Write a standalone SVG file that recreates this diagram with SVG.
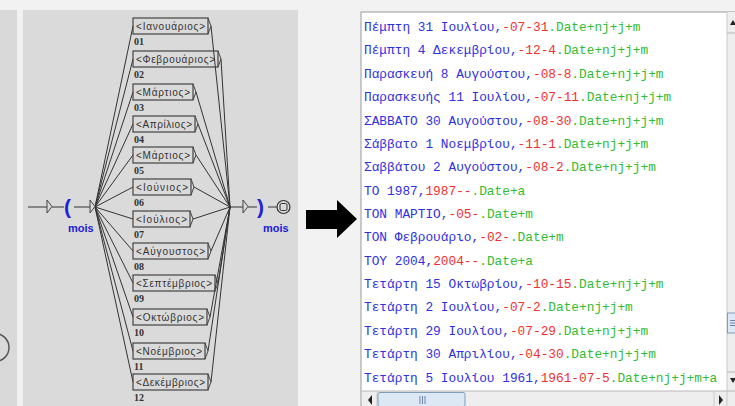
<svg xmlns="http://www.w3.org/2000/svg" width="735" height="406" viewBox="0 0 735 406">
<style>
.bg{fill:#f2f2f2}
.panel{fill:#dadada}
.edge{stroke:#333;stroke-width:1;fill:none}
.box rect{fill:none;stroke:#444;stroke-width:1.2}
.box polyline{fill:none;stroke:#444;stroke-width:1}
.bl{font-family:"Liberation Sans","DejaVu Sans",sans-serif;font-size:10px;fill:#333}
.num{font-family:"Liberation Serif","DejaVu Serif",serif;font-size:10px;font-weight:bold;fill:#333}
.blue{fill:#2020d8}
.paren{font-family:"Liberation Sans",sans-serif;font-size:21px;font-weight:bold;fill:#2020d8}
.mois{font-family:"Liberation Sans",sans-serif;font-size:11px;font-weight:bold;fill:#2020d8}
.ln{font-family:"Liberation Mono","DejaVu Sans Mono",monospace;font-size:12.8px}
.b{fill:#3030e0}.r{fill:#f03030}.g{fill:#33bb33}
</style>
<rect class="bg" x="0" y="0" width="735" height="406"/>
<rect x="0" y="10" width="17" height="396" fill="#d9d9d9"/>
<rect class="panel" x="23" y="10" width="275" height="396"/>
<circle cx="-5" cy="347.5" r="14" fill="none" stroke="#555" stroke-width="1.5"/>

<g id="connectors">
<path class="edge" d="M28 207H47M52 207H64M74 207H90M230 207H243M248 207H257M268 207H277"/>
<path class="edge" d="M95 207L133 26M95 207L133 59M95 207L133 92M95 207L133 124M95 207L133 155M95 207L133 187M95 207L133 219M95 207L133 251M95 207L133 283M95 207L133 317M95 207L133 351M95 207L133 382"/>
<path class="edge" d="M211 26L230 207M221 59L230 207M196 92L230 207M198 124L230 207M196 155L230 207M194 187L230 207M193 219L230 207M211 251L230 207M218 283L230 207M210 317L230 207M208 351L230 207M211 382L230 207"/>
</g>

<g id="init">
<path d="M47 200V213L52 206.5Z" fill="#dadada" stroke="#444" stroke-width="1"/>
<text class="paren" x="64" y="214">(</text>
<path d="M90 200V213L95 206.5Z" fill="#dadada" stroke="#444" stroke-width="1"/>
<text class="mois" x="68" y="232">mois</text>
</g>

<g id="final">
<path d="M243 200V213L248 206.5Z" fill="#dadada" stroke="#444" stroke-width="1"/>
<text class="paren" x="257" y="214">)</text>
<text class="mois" x="263" y="232">mois</text>
<circle cx="283.5" cy="207" r="6.5" fill="#dadada" stroke="#333" stroke-width="1.2"/>
<rect x="280" y="203.5" width="7" height="7" rx="1.5" fill="none" stroke="#333" stroke-width="1"/>
</g>

<g id="b01" class="box"><rect x="133" y="18" width="75" height="16"/><polyline points="208,18 211,26 208,34"/><text class="bl" x="136" y="30" textLength="69">&lt;Ιανουάριος&gt;</text><text class="num" x="134" y="45">01</text></g>
<g id="b02" class="box"><rect x="133" y="51" width="85" height="16"/><polyline points="218,51 221,59 218,67"/><text class="bl" x="136" y="63" textLength="79">&lt;Φεβρουάριος&gt;</text><text class="num" x="134" y="78">02</text></g>
<g id="b03" class="box"><rect x="133" y="84" width="60" height="16"/><polyline points="193,84 196,92 193,100"/><text class="bl" x="136" y="96" textLength="54">&lt;Μάρτιος&gt;</text><text class="num" x="134" y="111">03</text></g>
<g id="b04" class="box"><rect x="133" y="116" width="62" height="16"/><polyline points="195,116 198,124 195,132"/><text class="bl" x="136" y="128" textLength="56">&lt;Απρίλιος&gt;</text><text class="num" x="134" y="143">04</text></g>
<g id="b05" class="box"><rect x="133" y="147" width="60" height="16"/><polyline points="193,147 196,155 193,163"/><text class="bl" x="136" y="159" textLength="54">&lt;Μάρτιος&gt;</text><text class="num" x="134" y="174">05</text></g>
<g id="b06" class="box"><rect x="133" y="179" width="58" height="16"/><polyline points="191,179 194,187 191,195"/><text class="bl" x="136" y="191" textLength="52">&lt;Ιούνιος&gt;</text><text class="num" x="134" y="206">06</text></g>
<g id="b07" class="box"><rect x="133" y="211" width="57" height="16"/><polyline points="190,211 193,219 190,227"/><text class="bl" x="136" y="223" textLength="51">&lt;Ιούλιος&gt;</text><text class="num" x="134" y="238">07</text></g>
<g id="b08" class="box"><rect x="133" y="243" width="75" height="16"/><polyline points="208,243 211,251 208,259"/><text class="bl" x="136" y="255" textLength="69">&lt;Αύγουστος&gt;</text><text class="num" x="134" y="270">08</text></g>
<g id="b09" class="box"><rect x="133" y="275" width="82" height="16"/><polyline points="215,275 218,283 215,291"/><text class="bl" x="136" y="287" textLength="76">&lt;Σεπτέμβριος&gt;</text><text class="num" x="134" y="302">09</text></g>
<g id="b10" class="box"><rect x="133" y="309" width="74" height="16"/><polyline points="207,309 210,317 207,325"/><text class="bl" x="136" y="321" textLength="68">&lt;Οκτώβριος&gt;</text><text class="num" x="134" y="336">10</text></g>
<g id="b11" class="box"><rect x="133" y="343" width="72" height="16"/><polyline points="205,343 208,351 205,359"/><text class="bl" x="136" y="355" textLength="66">&lt;Νοέμβριος&gt;</text><text class="num" x="134" y="370">11</text></g>
<g id="b12" class="box"><rect x="133" y="374" width="75" height="16"/><polyline points="208,374 211,382 208,390"/><text class="bl" x="136" y="386" textLength="69">&lt;Δεκέμβριος&gt;</text><text class="num" x="134" y="401">12</text></g>

<g id="arrow"><path d="M306 210H337V200L357 219L337 238V229H306Z" fill="#000"/></g>

<g id="results">
<rect x="361" y="12" width="374" height="394" fill="#fff" stroke="#9a9a9a" stroke-width="1"/>
<text class="ln" x="364" y="31"><tspan class="b">Πέμπτη 31 Ιουλίου,</tspan><tspan class="r">-07-31</tspan><tspan class="g">.Date+nj+j+m</tspan></text>
<text class="ln" x="364" y="54.4"><tspan class="b">Πέμπτη 4 Δεκεμβρίου,</tspan><tspan class="r">-12-4</tspan><tspan class="g">.Date+nj+j+m</tspan></text>
<text class="ln" x="364" y="77.8"><tspan class="b">Παρασκευή 8 Αυγούστου,</tspan><tspan class="r">-08-8</tspan><tspan class="g">.Date+nj+j+m</tspan></text>
<text class="ln" x="364" y="101.1"><tspan class="b">Παρασκευής 11 Ιουλίου,</tspan><tspan class="r">-07-11</tspan><tspan class="g">.Date+nj+j+m</tspan></text>
<text class="ln" x="364" y="124.5"><tspan class="b">ΣΑΒΒΑΤΟ 30 Αυγούστου,</tspan><tspan class="r">-08-30</tspan><tspan class="g">.Date+nj+j+m</tspan></text>
<text class="ln" x="364" y="147.9"><tspan class="b">Σάββατο 1 Νοεμβρίου,</tspan><tspan class="r">-11-1</tspan><tspan class="g">.Date+nj+j+m</tspan></text>
<text class="ln" x="364" y="171.2"><tspan class="b">Σαββάτου 2 Αυγούστου,</tspan><tspan class="r">-08-2</tspan><tspan class="g">.Date+nj+j+m</tspan></text>
<text class="ln" x="364" y="194.6"><tspan class="b">ΤΟ 1987,</tspan><tspan class="r">1987--</tspan><tspan class="g">.Date+a</tspan></text>
<text class="ln" x="364" y="218"><tspan class="b">ΤΟΝ ΜΑΡΤΙΟ,</tspan><tspan class="r">-05-</tspan><tspan class="g">.Date+m</tspan></text>
<text class="ln" x="364" y="241.3"><tspan class="b">ΤΟΝ Φεβρουάριο,</tspan><tspan class="r">-02-</tspan><tspan class="g">.Date+m</tspan></text>
<text class="ln" x="364" y="264.7"><tspan class="b">ΤΟΥ 2004,</tspan><tspan class="r">2004--</tspan><tspan class="g">.Date+a</tspan></text>
<text class="ln" x="364" y="288.1"><tspan class="b">Τετάρτη 15 Οκτωβρίου,</tspan><tspan class="r">-10-15</tspan><tspan class="g">.Date+nj+j+m</tspan></text>
<text class="ln" x="364" y="311.4"><tspan class="b">Τετάρτη 2 Ιουλίου,</tspan><tspan class="r">-07-2</tspan><tspan class="g">.Date+nj+j+m</tspan></text>
<text class="ln" x="364" y="334.8"><tspan class="b">Τετάρτη 29 Ιουλίου,</tspan><tspan class="r">-07-29</tspan><tspan class="g">.Date+nj+j+m</tspan></text>
<text class="ln" x="364" y="358.2"><tspan class="b">Τετάρτη 30 Απριλίου,</tspan><tspan class="r">-04-30</tspan><tspan class="g">.Date+nj+j+m</tspan></text>
<text class="ln" x="364" y="381.5"><tspan class="b">Τετάρτη 5 Ιουλίου 1961,</tspan><tspan class="r">1961-07-5</tspan><tspan class="g">.Date+nj+j+m+a</tspan></text>
</g>

<g id="vscroll">
<rect x="727" y="12" width="8" height="379" fill="#eeeeee"/>
<line x1="727" y1="12" x2="727" y2="391" stroke="#c8c8c8"/>
<line x1="727" y1="33" x2="735" y2="33" stroke="#b8b8b8"/>
<path d="M730 25L733 20L736 25Z" fill="#222"/>
<rect x="727.5" y="313" width="9" height="20" fill="#dde8f5" stroke="#7f9db9"/>
<path d="M730 320.5H735M730 323H735M730 325.5H735" stroke="#6a84a8"/>
<line x1="727" y1="372" x2="735" y2="372" stroke="#b8b8b8"/>
<path d="M730 378L733 383L736 378Z" fill="#222"/>
</g>
<g id="hscroll">
<rect x="362" y="391" width="373" height="15" fill="#eeeeee"/>
<line x1="362" y1="391" x2="735" y2="391" stroke="#b8b8b8"/>
<path d="M372 395L368 400L372 405Z" fill="#222"/>
<line x1="377" y1="391" x2="377" y2="406" stroke="#c8c8c8"/>
<rect x="378" y="392.5" width="87" height="14" rx="2" fill="#dde8f5" stroke="#7f9db9"/>
<path d="M420 396V404M422.5 396V404M425 396V404" stroke="#6a84a8"/>
<line x1="714" y1="391" x2="714" y2="406" stroke="#c8c8c8"/>
<path d="M719 395L723 400L719 405Z" fill="#222"/>
<line x1="727" y1="391" x2="727" y2="406" stroke="#c8c8c8"/>
</g>
</svg>
